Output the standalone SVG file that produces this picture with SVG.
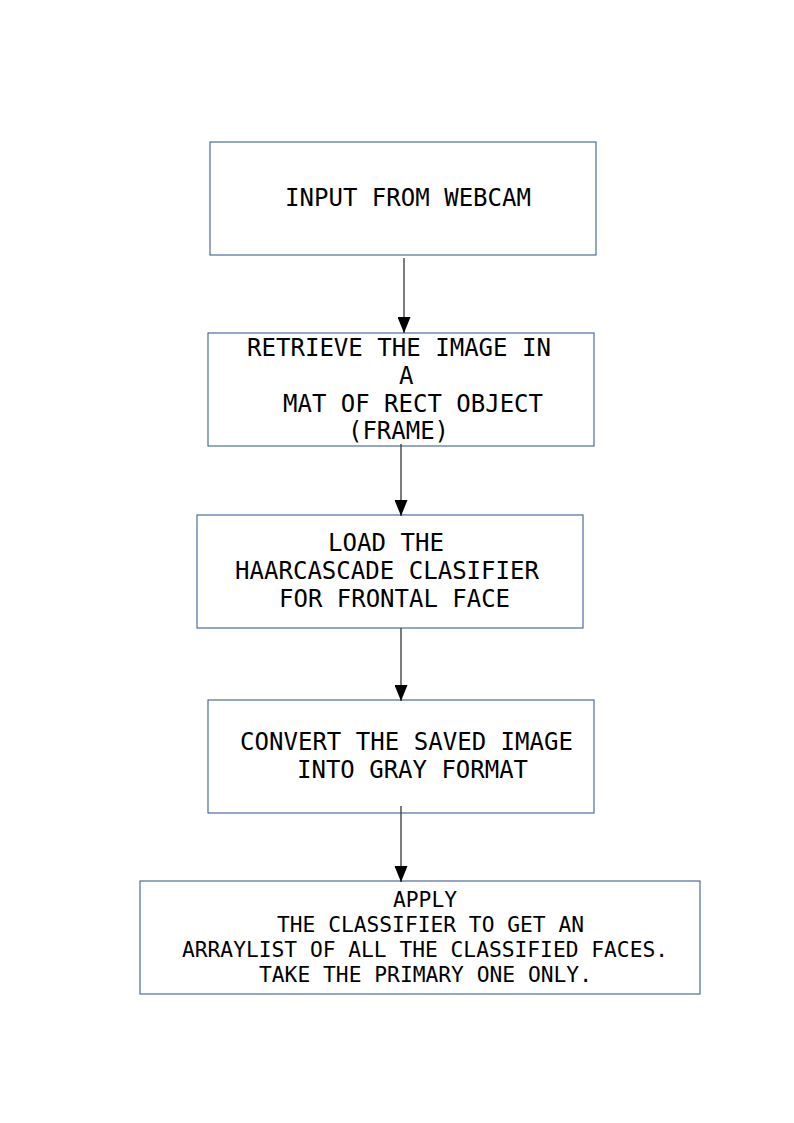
<svg xmlns="http://www.w3.org/2000/svg" width="794" height="1123" viewBox="0 0 794 1123">
<style>
.box{fill:#ffffff;stroke:#3c5f94;stroke-width:1.1}
.t{font-family:"DejaVu Sans Mono","Liberation Mono",monospace;font-size:24px;fill:#000}
.s{font-family:"DejaVu Sans Mono","Liberation Mono",monospace;font-size:20.5px;fill:#000}
.c{stroke:#444;stroke-width:1.4;fill:none}
</style>
<defs>
<marker id="ah2" markerWidth="16" markerHeight="13" refX="16" refY="6.5" orient="auto" markerUnits="userSpaceOnUse" viewBox="0 0 16 13">
<path d="M0,0 L16,6.5 L0,13 Z" fill="#000"/>
</marker>
</defs>
<rect width="794" height="1123" fill="#ffffff"/>
<g id="n1">
<rect class="box" x="210" y="142" width="386" height="113"/>
<text class="t" x="285" y="206" textLength="246" lengthAdjust="spacingAndGlyphs">INPUT FROM WEBCAM</text>
</g>
<g id="n2">
<rect class="box" x="208" y="333" width="386" height="113"/>
<text class="t" x="247" y="356" textLength="304" lengthAdjust="spacingAndGlyphs">RETRIEVE THE IMAGE IN</text>
<text class="t" x="399" y="384" textLength="14.5" lengthAdjust="spacingAndGlyphs">A</text>
<text class="t" x="283" y="412" textLength="260" lengthAdjust="spacingAndGlyphs">MAT OF RECT OBJECT</text>
<text class="t" x="348" y="439" textLength="101" lengthAdjust="spacingAndGlyphs">(FRAME)</text>
</g>
<g id="n3">
<rect class="box" x="197" y="515" width="386" height="113"/>
<text class="t" x="328" y="551" textLength="116" lengthAdjust="spacingAndGlyphs">LOAD THE</text>
<text class="t" x="235" y="579" textLength="304" lengthAdjust="spacingAndGlyphs">HAARCASCADE CLASIFIER</text>
<text class="t" x="279" y="607" textLength="231" lengthAdjust="spacingAndGlyphs">FOR FRONTAL FACE</text>
</g>
<g id="n4">
<rect class="box" x="208" y="700" width="386" height="113"/>
<text class="t" x="240" y="750" textLength="333" lengthAdjust="spacingAndGlyphs">CONVERT THE SAVED IMAGE</text>
<text class="t" x="297" y="778" textLength="231" lengthAdjust="spacingAndGlyphs">INTO GRAY FORMAT</text>
</g>
<g id="n5">
<rect class="box" x="140" y="881" width="560" height="113"/>
<text class="s" x="393" y="907" textLength="64" lengthAdjust="spacingAndGlyphs">APPLY</text>
<text class="s" x="277" y="932" textLength="307" lengthAdjust="spacingAndGlyphs">THE CLASSIFIER TO GET AN</text>
<text class="s" x="182" y="957" textLength="486" lengthAdjust="spacingAndGlyphs">ARRAYLIST OF ALL THE CLASSIFIED FACES.</text>
<text class="s" x="259" y="982" textLength="333" lengthAdjust="spacingAndGlyphs">TAKE THE PRIMARY ONE ONLY.</text>
</g>
<g id="connectors">
<line class="c" x1="404" y1="258" x2="404" y2="333" marker-end="url(#ah2)"/>
<line class="c" x1="401" y1="444" x2="401" y2="516" marker-end="url(#ah2)"/>
<line class="c" x1="401" y1="628" x2="401" y2="701" marker-end="url(#ah2)"/>
<line class="c" x1="401" y1="806" x2="401" y2="882" marker-end="url(#ah2)"/>
</g>
</svg>
